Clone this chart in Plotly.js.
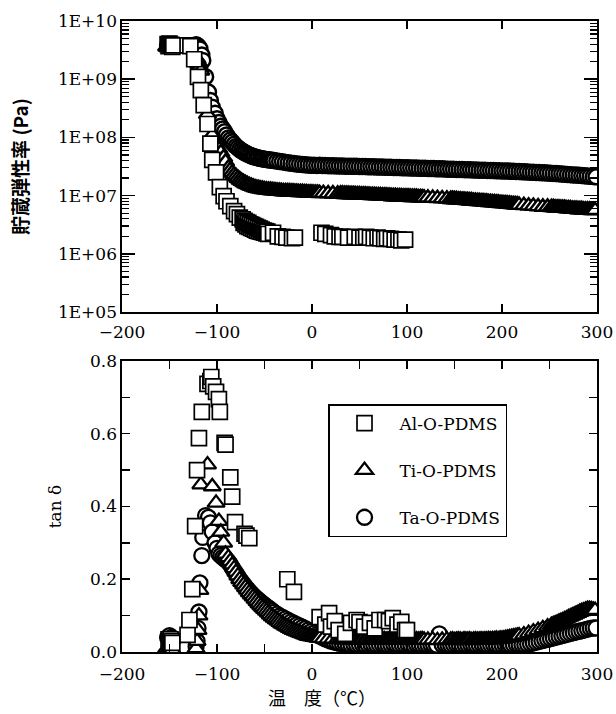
<!DOCTYPE html>
<html>
<head>
<meta charset="utf-8">
<script src="https://cdn.plot.ly/plotly-3.0.1.min.js"></script>
<style>html,body{margin:0;padding:0;background:#fff;}#chart{width:616px;height:714px;}</style>
</head>
<body>
<div id="chart"></div>
<script>
// ---------------- data ----------------
const seriesNames = ['Al-O-PDMS', 'Ti-O-PDMS', 'Ta-O-PDMS'];

// Al-O-PDMS : storage modulus (Pa)
const tempAlMod = [-152,-151,-150,-149,-148,-147,-146,
  -131,-128,-124,-120,-117,-114,-110,-107,-105,-101,-97,-93,-90,-86,-82,-79,-76,
  -73,-72,-71,-70,-69,-68,-67,-66,-65,-64,-63,-62,-61,-60,-59,-58,-57,-56,-55,-54,-53,-52,-51,-50,-49,-48,-47,-46,
  -41,-36,-31,-27,-21,-18,
  10,14,20,24,29,32,38,45,50,54,57,61,65,69,72,76,79,83,87,91,94,98];
const modAl = [4.0e9,3.7e9,4.1e9,3.8e9,3.9e9,3.6e9,3.8e9,
  3.8e9,3.7e9,2.2e9,1.1e9,6.5e8,3.6e8,1.7e8,7.8e7,4.1e7,2.5e7,1.4e7,9.8e6,8.0e6,6.6e6,5.4e6,4.8e6,4.2e6,
  3.9e6,3.4e6,3.7e6,3.2e6,3.5e6,3.0e6,3.4e6,2.9e6,3.2e6,2.8e6,3.1e6,2.7e6,3.0e6,2.6e6,2.9e6,2.5e6,2.8e6,2.45e6,2.7e6,2.4e6,2.6e6,2.35e6,2.5e6,2.3e6,2.45e6,2.25e6,2.4e6,2.2e6,
  2.3e6,2.0e6,1.95e6,1.9e6,1.85e6,1.9e6,
  2.3e6,2.2e6,2.1e6,2.0e6,1.95e6,1.95e6,1.9e6,1.95e6,1.9e6,1.9e6,1.95e6,1.9e6,1.85e6,1.9e6,1.85e6,1.8e6,1.85e6,1.8e6,1.75e6,1.75e6,1.7e6,1.75e6];

// Al-O-PDMS : tan delta
const tempAlTan = [-151,-150,-149,-148,-147,
  -131,-129,-126,-123,-121,-119,-116,-110,-107,-106,-104,-101,-98,-97,-92,-91,-86,-84,-81,-71,-69,-66,
  -26,-19,
  8,14,18,20,24,28,35,41,47,50,55,61,66,71,77,81,85,90,94,98,100];
const tanAl = [0.035,0.03,0.035,0.03,0.025,
  0.047,0.088,0.173,0.346,0.50,0.588,0.66,0.737,0.745,0.756,0.73,0.715,0.695,0.66,0.575,0.57,0.48,0.427,0.357,0.325,0.32,0.313,
  0.2,0.165,
  0.096,0.075,0.107,0.07,0.085,0.06,0.05,0.08,0.088,0.082,0.07,0.08,0.065,0.088,0.088,0.085,0.093,0.075,0.083,0.06,0.06];

// Ti-O-PDMS : temperature, storage modulus (Pa), tan delta
const tempTi = [-153,-151,-149,-147,-122,-121,-120,-119,-118,-117,-110,-105,-101,-98,-96,-93,-91,
  -88,-86,-84,-82,-80,-78,-76,-74,-72,-70,-68,-66,-64,-62,-60,-58,-56,-54,-52,-50,
  -48,-46,-44,-42,-40,-38,-36,-34,-32,-30,-28,-26,-24,-22,-20,-18,-16,-14,-12,-10,
  -8,-6,-4,-2,0,2,4,6,8,
  12,17,22,27,
  30,32,34,36,38,40,42,44,46,48,50,52,54,56,58,60,62,64,66,68,70,72,74,76,78,80,82,84,86,88,90,92,94,96,98,100,102,104,106,108,110,112,114,116,118,
  122,127,132,137,142,
  146,148,150,152,154,156,158,160,162,164,166,168,170,172,174,176,178,180,182,184,186,188,190,192,194,196,198,200,202,204,206,208,210,212,214,216,218,
  223,228,233,238,243,248,
  252,254,256,258,260,262,264,266,268,270,272,274,276,278,280,282,284,286,288,290,292,294,296,298];
const modTi = [3.6e9,3.6e9,3.5e9,3.5e9,2.3e9,2.2e9,2.0e9,1.8e9,1.6e9,1.4e9,2.5e8,1.1e8,7.5e7,6.3e7,5.5e7,4.5e7,3.8e7,
  3.0e7,2.75e7,2.5e7,2.3e7,2.15e7,2.0e7,1.88e7,1.78e7,1.7e7,1.62e7,1.56e7,1.5e7,1.46e7,1.42e7,1.38e7,1.35e7,1.33e7,1.31e7,1.29e7,1.27e7,
  1.26e7,1.25e7,1.24e7,1.23e7,1.22e7,1.21e7,1.2e7,1.2e7,1.19e7,1.18e7,1.18e7,1.17e7,1.17e7,1.16e7,1.16e7,1.15e7,1.15e7,1.14e7,1.14e7,1.14e7,
  1.13e7,1.13e7,1.12e7,1.12e7,1.12e7,1.11e7,1.11e7,1.11e7,1.1e7,
  1.1e7,1.09e7,1.08e7,1.07e7,
  1.07e7,1.07e7,1.06e7,1.06e7,1.06e7,1.05e7,1.05e7,1.05e7,1.04e7,1.04e7,1.04e7,1.03e7,1.03e7,1.03e7,1.02e7,1.02e7,1.01e7,1.01e7,1.01e7,1.0e7,1.0e7,1.0e7,9.9e6,9.9e6,9.9e6,9.8e6,9.8e6,9.7e6,9.7e6,9.7e6,9.6e6,9.6e6,9.6e6,9.5e6,9.5e6,9.5e6,9.5e6,9.4e6,9.4e6,9.4e6,9.4e6,9.3e6,9.3e6,9.3e6,9.2e6,
  9.2e6,9.1e6,9.0e6,8.9e6,8.8e6,
  8.7e6,8.7e6,8.6e6,8.6e6,8.5e6,8.5e6,8.4e6,8.4e6,8.3e6,8.3e6,8.2e6,8.2e6,8.1e6,8.1e6,8.0e6,8.0e6,7.9e6,7.9e6,7.8e6,7.8e6,7.7e6,7.7e6,7.6e6,7.6e6,7.5e6,7.5e6,7.4e6,7.4e6,7.3e6,7.3e6,7.2e6,7.2e6,7.1e6,7.1e6,7.0e6,7.0e6,6.9e6,
  6.8e6,6.7e6,6.6e6,6.5e6,6.4e6,6.4e6,
  6.3e6,6.3e6,6.2e6,6.2e6,6.2e6,6.1e6,6.1e6,6.1e6,6.0e6,6.0e6,6.0e6,5.9e6,5.9e6,5.9e6,5.8e6,5.8e6,5.8e6,5.7e6,5.7e6,5.7e6,5.7e6,5.6e6,5.6e6,5.6e6];
const tanTi = [0.01,0.008,0.008,0.006,0.01,0.03,0.06,0.1,0.17,0.46,0.515,0.455,0.41,0.36,0.33,0.30,0.27,
  0.26,0.25,0.24,0.23,0.22,0.21,0.2,0.192,0.185,0.178,0.171,0.164,0.158,0.152,0.146,0.14,0.134,0.128,0.123,0.118,
  0.113,0.108,0.103,0.098,0.094,0.09,0.086,0.082,0.078,0.075,0.072,0.069,0.066,0.063,0.06,0.058,0.056,0.054,0.052,0.05,
  0.048,0.046,0.044,0.043,0.042,0.041,0.04,0.039,0.038,
  0.037,0.036,0.036,0.035,
  0.036,0.035,0.034,0.036,0.035,0.034,0.035,0.036,0.034,0.035,0.033,0.035,0.036,0.034,0.035,0.033,0.034,0.036,0.035,0.034,0.033,0.035,0.034,0.035,0.033,0.034,0.035,0.034,0.033,0.035,0.034,0.033,0.034,0.035,0.033,0.034,0.033,0.035,0.034,0.033,0.034,0.033,0.034,0.035,0.033,
  0.033,0.034,0.032,0.033,0.034,
  0.033,0.034,0.032,0.033,0.034,0.033,0.032,0.034,0.033,0.033,0.034,0.032,0.033,0.034,0.033,0.033,0.034,0.033,0.034,0.034,0.035,0.034,0.035,0.035,0.036,0.035,0.036,0.036,0.037,0.038,0.039,0.04,0.041,0.042,0.043,0.044,0.045,
  0.048,0.052,0.056,0.06,0.065,0.07,
  0.074,0.076,0.078,0.08,0.083,0.085,0.087,0.09,0.092,0.095,0.097,0.1,0.102,0.105,0.107,0.11,0.112,0.114,0.116,0.118,0.118,0.117,0.116,0.115];

// Ta-O-PDMS : temperature, storage modulus (Pa), tan delta
const tempTa = [-152,-150,-148,-146,-122,-121,-120,-119,-118,-116,-115,-112,-109,-107,-105,-102,-100,-98,-96,-94,-92,-90,
  -88,-86,-84,-82,-80,-78,-76,-74,-72,-70,-68,-66,-64,-62,-60,-58,-56,-54,-52,-50,-48,-46,-44,-42,
  -40,-37,-34,-31,-28,-25,-22,-19,-16,-13,-10,-7,-4,-1,2,5,8,11,14,17,
  20,23,26,29,32,35,38,41,44,47,50,53,56,59,62,65,68,71,74,77,
  80,83,86,89,92,95,98,101,104,107,110,113,116,119,122,125,128,131,134,137,
  140,143,146,149,152,155,158,161,164,167,170,173,176,179,182,185,188,191,194,197,
  200,203,206,209,212,215,218,221,224,227,230,233,236,239,242,245,248,251,254,257,
  260,263,266,269,272,275,278,281,284,287,290,293,296,299];
const modTa = [3.8e9,3.9e9,3.8e9,3.7e9,3.9e9,3.8e9,3.7e9,3.5e9,3.3e9,2.6e9,2.1e9,1.1e9,6.0e8,4.3e8,3.3e8,2.6e8,2.1e8,1.8e8,1.55e8,1.4e8,1.25e8,1.1e8,
  9.8e7,9.0e7,8.3e7,7.6e7,7.0e7,6.6e7,6.2e7,5.9e7,5.6e7,5.4e7,5.2e7,5.0e7,4.85e7,4.7e7,4.6e7,4.5e7,4.42e7,4.35e7,4.28e7,4.22e7,4.16e7,4.12e7,4.08e7,4.04e7,
  4.0e7,3.92e7,3.85e7,3.8e7,3.72e7,3.66e7,3.6e7,3.55e7,3.5e7,3.46e7,3.42e7,3.38e7,3.36e7,3.33e7,3.32e7,3.3e7,3.31e7,3.29e7,3.28e7,3.27e7,
  3.27e7,3.25e7,3.24e7,3.24e7,3.22e7,3.21e7,3.21e7,3.19e7,3.18e7,3.18e7,3.16e7,3.15e7,3.15e7,3.13e7,3.12e7,3.12e7,3.1e7,3.09e7,3.09e7,3.07e7,
  3.06e7,3.06e7,3.04e7,3.03e7,3.03e7,3.01e7,3.0e7,3.0e7,2.98e7,2.97e7,2.97e7,2.95e7,2.94e7,2.94e7,2.92e7,2.91e7,2.91e7,2.89e7,2.88e7,2.88e7,
  2.86e7,2.85e7,2.85e7,2.83e7,2.82e7,2.82e7,2.8e7,2.79e7,2.79e7,2.77e7,2.76e7,2.76e7,2.74e7,2.73e7,2.73e7,2.71e7,2.7e7,2.7e7,2.68e7,2.67e7,
  2.66e7,2.65e7,2.64e7,2.62e7,2.61e7,2.6e7,2.59e7,2.57e7,2.56e7,2.55e7,2.53e7,2.52e7,2.5e7,2.49e7,2.47e7,2.46e7,2.44e7,2.42e7,2.41e7,2.39e7,
  2.37e7,2.35e7,2.33e7,2.31e7,2.29e7,2.27e7,2.25e7,2.23e7,2.21e7,2.19e7,2.17e7,2.15e7,2.12e7,2.1e7];
const tanTa = [0.04,0.045,0.04,0.035,0.015,0.03,0.065,0.11,0.19,0.265,0.315,0.375,0.37,0.355,0.33,0.30,0.285,0.27,0.265,0.26,0.256,0.252,
  0.248,0.24,0.232,0.224,0.216,0.208,0.2,0.193,0.186,0.179,0.173,0.167,0.161,0.156,0.151,0.146,0.142,0.137,0.133,0.129,0.125,0.121,0.117,0.113,
  0.109,0.104,0.099,0.095,0.091,0.087,0.083,0.079,0.075,0.072,0.068,0.064,0.06,0.056,0.052,0.048,0.044,0.04,0.036,0.033,
  0.03,0.028,0.026,0.024,0.023,0.022,0.021,0.02,0.021,0.02,0.02,0.021,0.019,0.02,0.021,0.02,0.019,0.02,0.021,0.02,
  0.019,0.02,0.021,0.02,0.019,0.02,0.02,0.021,0.019,0.02,0.021,0.02,0.019,0.02,0.02,0.021,0.02,0.019,0.05,0.02,
  0.021,0.02,0.019,0.02,0.021,0.02,0.019,0.02,0.02,0.021,0.02,0.019,0.02,0.021,0.02,0.019,0.02,0.021,0.02,0.019,
  0.02,0.021,0.02,0.019,0.02,0.021,0.02,0.02,0.02,0.021,0.023,0.025,0.027,0.029,0.031,0.033,0.035,0.037,0.039,0.041,
  0.043,0.045,0.047,0.049,0.051,0.053,0.055,0.057,0.059,0.061,0.063,0.065,0.066,0.066];

// axis ticks
const tempTicks = [-200,-100,0,100,200,300];
const modTickVals = [1e5,1e6,1e7,1e8,1e9,1e10];
const modTickText = ['1E+05','1E+06','1E+07','1E+08','1E+09','1E+10'];
const modMinorVals = [];
for (let e = 5; e < 10; e++) for (let k = 2; k <= 9; k++) modMinorVals.push(k * Math.pow(10, e));

// ---------------- chart ----------------
const symbols = {Al:'square', Ti:'triangle-up', Ta:'circle'};
function trace(x, y, name, sym, size, lw, xa, ya, rank, show) {
  return {type:'scatter', mode:'markers', x:x, y:y, name:name, xaxis:xa, yaxis:ya,
    legendgroup:name, showlegend:show, legendrank:rank, hoverinfo:'skip',
    marker:{symbol:sym, size:size, color:'white', line:{color:'black', width:lw}}};
}
const data = [
  trace(tempTa, modTa, seriesNames[2], symbols.Ta, 15, 2.5, 'x', 'y', 3, false),
  trace(tempTi, modTi, seriesNames[1], symbols.Ti, 15, 2.5, 'x', 'y', 2, false),
  trace(tempAlMod, modAl, seriesNames[0], symbols.Al, 15, 1.7, 'x', 'y', 1, false),
  trace(tempTa, tanTa, seriesNames[2], symbols.Ta, 15, 2.3, 'x2', 'y2', 3, true),
  trace(tempTi, tanTi, seriesNames[1], symbols.Ti, 15, 2.3, 'x2', 'y2', 2, true),
  trace(tempAlTan, tanAl, seriesNames[0], symbols.Al, 15, 1.7, 'x2', 'y2', 1, true)
];

const tickFont = {family:'DejaVu Serif', size:17, color:'black'};
const axBase = {showline:true, linewidth:1.6, linecolor:'black', mirror:'ticks', ticks:'inside',
  tickwidth:1.5, tickcolor:'black', showgrid:false, zeroline:false, tickfont:tickFont, fixedrange:true};

const layout = {
  width:616, height:714,
  margin:{l:122, r:19, t:21, b:62, pad:0},
  paper_bgcolor:'white', plot_bgcolor:'white',
  font:{family:'DejaVu Serif', size:16, color:'black'},
  showlegend:true,
  xaxis:Object.assign({}, axBase, {domain:[0,1], anchor:'y', range:[-200,300], tickmode:'array', tickvals:tempTicks, ticklen:8, ticklabelstandoff:4}),
  yaxis:Object.assign({}, axBase, {domain:[0.5388,1], anchor:'x', type:'log', range:[5,10],
    tickmode:'array', tickvals:modTickVals, ticktext:modTickText, ticklen:13,
    minor:{tickmode:'array', tickvals:modMinorVals, ticks:'inside', ticklen:7, tickwidth:1.2, tickcolor:'black', showgrid:false},
    title:{text:'貯蔵弾性率 (Pa)', font:{family:'Noto Sans CJK JP', size:19, color:'black', weight:'bold'}, standoff:24}}),
  xaxis2:Object.assign({}, axBase, {domain:[0,1], anchor:'y2', range:[-200,300], tickmode:'array', tickvals:tempTicks, ticklen:8, ticklabelstandoff:6,
    minor:{dtick:50, tick0:0, ticks:'inside', ticklen:8, tickwidth:1.5, tickcolor:'black', showgrid:false}}),
  yaxis2:Object.assign({}, axBase, {domain:[0,0.4612], anchor:'x2', range:[0,0.8], dtick:0.2, tick0:0, tickformat:'.1f', ticklen:8,
    minor:{dtick:0.1, tick0:0, ticks:'inside', ticklen:8, tickwidth:1.5, tickcolor:'black', showgrid:false},
    title:{text:'tan δ', font:{family:'DejaVu Serif', size:17, color:'black'}, standoff:24}}),
  legend:{x:0.4337, y:0.393, xanchor:'left', yanchor:'top', bgcolor:'white', bordercolor:'black', borderwidth:1.5,
    font:{family:'DejaVu Serif', size:17, color:'black'}, traceorder:'grouped', tracegroupgap:22,
    itemwidth:60, itemclick:false, itemdoubleclick:false},
  annotations:[{text:'温　度（℃）', xref:'paper', yref:'paper', x:0.42, y:-0.0713, xanchor:'center', yanchor:'middle',
    showarrow:false, font:{family:'Noto Sans CJK JP', size:18, color:'black'}}]
};

Plotly.newPlot('chart', data, layout, {staticPlot:true, displayModeBar:false});
</script>
</body>
</html>
